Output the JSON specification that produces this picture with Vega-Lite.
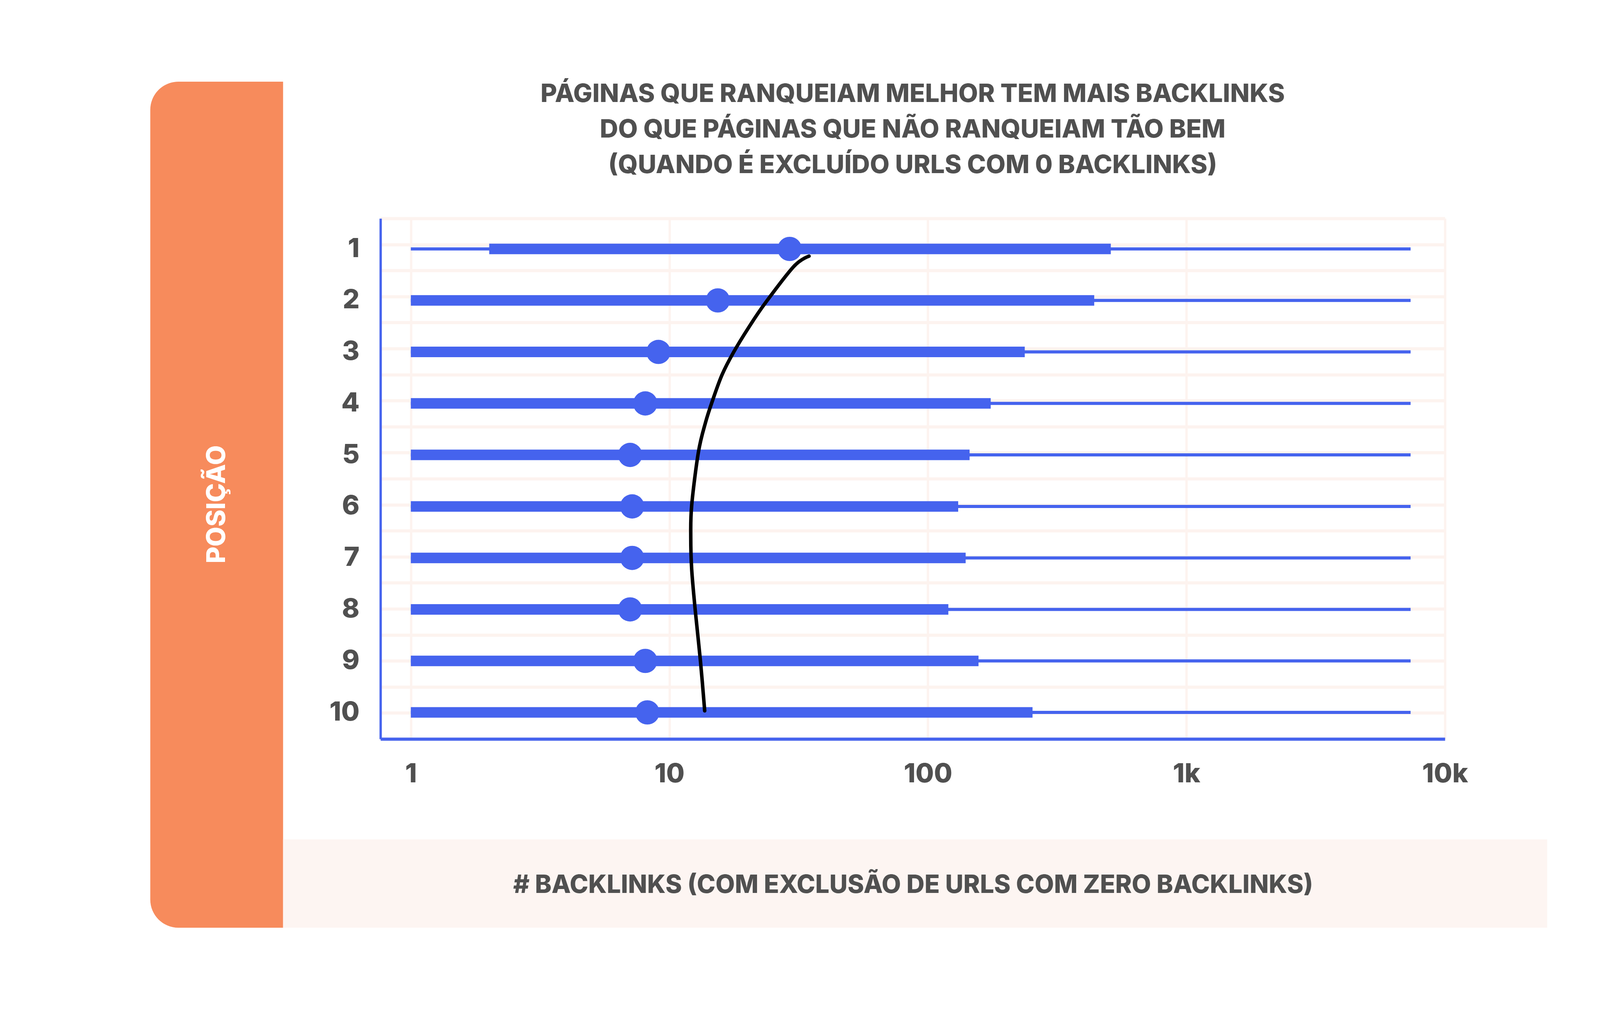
{
  "$schema": "https://vega.github.io/schema/vega-lite/v6.json",
  "autosize": "none",
  "width": 2725,
  "height": 1332,
  "padding": {"left": 974, "top": 559, "right": 647, "bottom": 691},
  "background": "white",
  "config": {
    "view": {"stroke": null},
    "font": "Inter"
  },
  "title": {
    "text": [
      "PÁGINAS QUE RANQUEIAM MELHOR TEM MAIS BACKLINKS",
      "DO QUE PÁGINAS QUE NÃO RANQUEIAM TÃO BEM",
      "(QUANDO É EXCLUÍDO URLS COM 0 BACKLINKS)"
    ],
    "frame": "group",
    "anchor": "middle",
    "offset": -248,
    "fontSize": 65,
    "fontWeight": 800,
    "color": "#505050",
    "lineHeight": 91
  },
  "datasets": {
    "rows": [
      {"pos": 1, "lo": 1, "q1": 2.01, "median": 29.2, "q3": 510, "hi": 7366},
      {"pos": 2, "lo": 1, "q1": 1, "median": 15.4, "q3": 440, "hi": 7366},
      {"pos": 3, "lo": 1, "q1": 1, "median": 9.07, "q3": 237, "hi": 7366},
      {"pos": 4, "lo": 1, "q1": 1, "median": 8.07, "q3": 175, "hi": 7366},
      {"pos": 5, "lo": 1, "q1": 1, "median": 7.05, "q3": 145, "hi": 7366},
      {"pos": 6, "lo": 1, "q1": 1, "median": 7.18, "q3": 131, "hi": 7366},
      {"pos": 7, "lo": 1, "q1": 1, "median": 7.18, "q3": 140, "hi": 7366},
      {"pos": 8, "lo": 1, "q1": 1, "median": 7.05, "q3": 120, "hi": 7366},
      {"pos": 9, "lo": 1, "q1": 1, "median": 8.07, "q3": 157, "hi": 7366},
      {"pos": 10, "lo": 1, "q1": 1, "median": 8.22, "q3": 254, "hi": 7366}
    ],
    "curve": [
      {"x": 34.7, "y": 1.14},
      {"x": 30.3, "y": 1.34},
      {"x": 23.5, "y": 2.05},
      {"x": 20.3, "y": 2.52},
      {"x": 17.7, "y": 3.01},
      {"x": 16.0, "y": 3.44},
      {"x": 14.7, "y": 3.94},
      {"x": 13.8, "y": 4.37},
      {"x": 12.95, "y": 4.95},
      {"x": 12.2, "y": 5.98},
      {"x": 12.1, "y": 6.6},
      {"x": 12.2, "y": 7.22},
      {"x": 12.6, "y": 8.03},
      {"x": 13.2, "y": 9.02},
      {"x": 13.7, "y": 9.97}
    ]
  },
  "layer": [
    {
      "data": {"values": [{}]},
      "mark": {"type": "rect", "color": "#F78B5C", "cornerRadiusTopLeft": 72, "cornerRadiusBottomLeft": 72},
      "encoding": {
        "x": {"datum": 0.0982, "type": "quantitative", "axis": null},
        "x2": {"datum": 0.3205},
        "y": {"datum": -2.248, "type": "quantitative", "axis": null},
        "y2": {"datum": 14.181}
      }
    },
    {
      "data": {"values": [{}]},
      "mark": {"type": "rect", "color": "#FDF5F2"},
      "encoding": {
        "x": {"datum": 0.3205, "type": "quantitative", "axis": null},
        "x2": {"datum": 24867},
        "y": {"datum": 12.466, "type": "quantitative", "axis": null},
        "y2": {"datum": 14.181}
      }
    },
    {
      "data": {"name": "rows"},
      "mark": {"type": "rule", "color": "#4563EE", "strokeWidth": 8, "strokeCap": "butt"},
      "encoding": {
        "x": {
          "field": "lo",
          "type": "quantitative",
          "scale": {"type": "log", "domain": [0.763, 10000], "nice": false, "clamp": false},
          "axis": {
            "orient": "bottom",
            "values": [1, 10, 100, 1000, 10000],
            "format": "~s",
            "grid": false,
            "ticks": false,
            "domain": true,
            "domainColor": "#4563EE",
            "domainWidth": 8,
            "labelFont": "Inter",
            "labelFontSize": 68,
            "labelFontWeight": 800,
            "labelColor": "#505050",
            "labelPadding": 56,
            "labelFlush": false,
            "labelBaseline": "top",
            "title": "# BACKLINKS (COM EXCLUSÃO DE URLS COM ZERO BACKLINKS)",
            "titleFont": "Inter",
            "titleFontSize": 64,
            "titleFontWeight": 800,
            "titleColor": "#505050",
            "titleX": 1363,
            "titleY": 374,
            "titleAlign": "center",
            "titleBaseline": "middle",
            "zindex": 1
          }
        },
        "x2": {"field": "hi"},
        "y": {
          "field": "pos",
          "type": "quantitative",
          "scale": {"domain": [0.408, 10.516], "reverse": true, "nice": false, "zero": false},
          "axis": {
            "orient": "left",
            "values": [1, 2, 3, 4, 5, 6, 7, 8, 9, 10],
            "format": "d",
            "grid": false,
            "ticks": false,
            "domain": true,
            "domainColor": "#4563EE",
            "domainWidth": 6,
            "labelFont": "Inter",
            "labelFontSize": 68,
            "labelFontWeight": 800,
            "labelColor": "#505050",
            "labelPadding": 54,
            "title": "POSIÇÃO",
            "titleFont": "Inter",
            "titleFontSize": 66,
            "titleFontWeight": 800,
            "titleColor": "#FFFFFF",
            "titleAngle": 270,
            "titleX": -419,
            "titleY": 731,
            "titleAlign": "center",
            "titleBaseline": "middle",
            "zindex": 1
          }
        }
      }
    },
    {
      "data": {"name": "rows"},
      "mark": {"type": "rule", "color": "#4563EE", "strokeWidth": 27, "strokeCap": "butt"},
      "encoding": {
        "x": {
          "field": "q1",
          "type": "quantitative",
          "axis": {
            "orient": "top",
            "values": [1, 10, 100, 1000, 10000],
            "grid": true,
            "gridColor": "#FDF3EF",
            "gridWidth": 6,
            "labels": false,
            "ticks": false,
            "domain": false,
            "title": null,
            "zindex": 0
          }
        },
        "x2": {"field": "q3"},
        "y": {
          "field": "pos",
          "type": "quantitative",
          "axis": {
            "orient": "right",
            "values": [0.408, 0.913, 1.419, 1.924, 2.43, 2.935, 3.44, 3.946, 4.451, 4.957, 5.462, 5.967, 6.473, 6.978, 7.484, 7.989, 8.494, 9.0, 9.505, 10.011, 10.516],
            "grid": true,
            "gridColor": "#FDF3EF",
            "gridWidth": 8,
            "labels": false,
            "ticks": false,
            "domain": false,
            "title": null,
            "zindex": 0
          }
        }
      }
    },
    {
      "data": {"name": "rows"},
      "mark": {"type": "circle", "color": "#4563EE", "opacity": 1, "size": 3850},
      "encoding": {
        "x": {"field": "median", "type": "quantitative", "axis": null},
        "y": {"field": "pos", "type": "quantitative", "axis": null}
      }
    },
    {
      "data": {"name": "curve"},
      "mark": {"type": "line", "color": "#000000", "strokeWidth": 9, "interpolate": "cardinal", "strokeCap": "round"},
      "encoding": {
        "x": {"field": "x", "type": "quantitative", "axis": null},
        "y": {"field": "y", "type": "quantitative", "axis": null},
        "order": {"field": "y"}
      }
    }
  ],
  "resolve": {"axis": {"x": "independent", "y": "independent"}}
}
